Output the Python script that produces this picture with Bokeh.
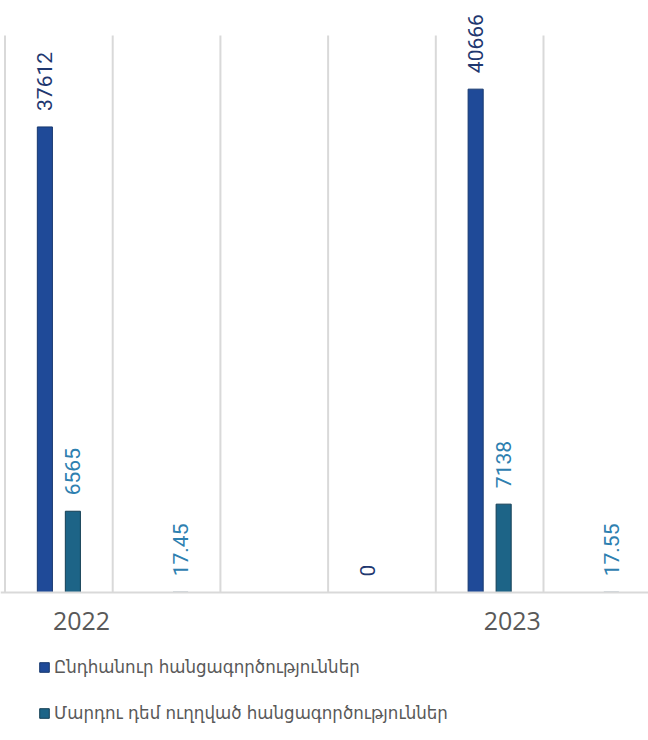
import numpy as np
from bokeh.plotting import figure
from bokeh.models import (ColumnDataSource, Range1d, FixedTicker, LabelSet,
                          Legend, LegendItem)
from bokeh.core.properties import value
from bokeh.embed import file_html
from bokeh.resources import INLINE

# ---- data ----
categories = ["2022", "", "", "", "2023", ""]
series_names = ["Ընդհանուր հանցագործություններ",
                "Մարդու դեմ ուղղված հանցագործություններ"]
general = [37612, None, None, 0, 40666, None]
person = [6565, 17.45, None, None, 7138, 17.55]
general_labels = ["37612", "", "", "0", "40666", ""]
person_labels = ["6565", "17.45", "", "", "7138", "17.55"]
tick_labels = {0: "2022", 4: "2023"}
y_max = 45000

BLUE = "#1F4A98"
TEAL = "#1D6487"
BLUE_TXT = "#1F3870"
TEAL_TXT = "#2E80B0"
GRID = "#D9D9D9"
NUM_FONT = "Roboto"

idx = np.arange(len(categories)) + 0.5
OFF = 0.13
BW = 0.14

# layout (pixels)
GRID_TOP = 35
BASELINE = 592
H = 740
units_per_px = y_max / (BASELINE - GRID_TOP)
y_min = -(H - BASELINE) * units_per_px
y_top = y_max + GRID_TOP * units_per_px


def build(vals, labels, shift):
    xs, ys, ls = [], [], []
    for i, (v, l) in enumerate(zip(vals, labels)):
        if v is None:
            continue
        xs.append(idx[i] + shift)
        ys.append(v)
        ls.append(l)
    return ColumnDataSource(dict(x=xs, top=ys, label=ls))


src_g = build(general, general_labels, -OFF)
src_p = build(person, person_labels, OFF)

p = figure(width=648, height=H, output_backend="svg", toolbar_location=None,
           x_range=Range1d(-0.042, 5.975), y_range=Range1d(y_min, y_top),
           min_border_left=0, min_border_right=0, min_border_top=0,
           min_border_bottom=0)
p.outline_line_color = None
p.background_fill_color = "white"

# category separators (vertical grid lines from baseline to axis max)
edges = np.arange(len(categories) + 1)
p.segment(x0=edges, y0=np.zeros(len(edges)), x1=edges,
          y1=np.full(len(edges), y_max), line_color=GRID, line_width=2)

r1 = p.vbar(x="x", top="top", width=BW, source=src_g, fill_color=BLUE,
            line_color="#17386F", line_width=1)
r2 = p.vbar(x="x", top="top", width=BW, source=src_p, fill_color=TEAL,
            line_color="#143F55", line_width=1)

for src, col in ((src_g, BLUE_TXT), (src_p, TEAL_TXT)):
    p.add_layout(LabelSet(x="x", y="top", text="label", source=src,
                          angle=np.pi / 2, y_offset=16, text_align="left",
                          text_baseline="middle", text_color=col,
                          text_font=value(NUM_FONT), text_font_size="21px"))

p.yaxis.visible = False
p.ygrid.visible = False
p.xgrid.visible = False

tick_pos = [float(idx[k] + 0.21) for k in tick_labels]
p.xaxis.fixed_location = 0
p.xaxis.ticker = FixedTicker(ticks=tick_pos)
p.xaxis.major_label_overrides = {tp: tick_labels[k] for tp, k in zip(tick_pos, tick_labels)}
p.xaxis.axis_line_color = GRID
p.xaxis.axis_line_width = 2
p.xaxis.major_tick_line_color = None
p.xaxis.minor_tick_line_color = None
p.xaxis.major_label_text_font = "Open Sans"
p.xaxis.major_label_text_font_size = "25px"
p.xaxis.major_label_text_color = "#595959"
p.xaxis.major_label_standoff = 13

legend = Legend(items=[LegendItem(label=series_names[0], renderers=[r1]),
                       LegendItem(label=series_names[1], renderers=[r2])],
                orientation="vertical", location=(38, 17),
                glyph_width=12, glyph_height=12, spacing=25,
                label_text_font="DejaVu Sans Condensed",
                label_text_font_size="18.5px", label_text_color="#595959",
                label_standoff=4, border_line_color=None,
                background_fill_alpha=0, padding=0, margin=0)
legend.label_height = 20
p.add_layout(legend, "center")

open("out.html", "w").write(file_html(p, INLINE))
